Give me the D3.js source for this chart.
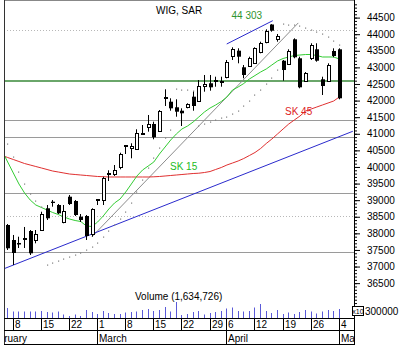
<!DOCTYPE html>
<html>
<head>
<meta charset="utf-8">
<script src="https://cdn.jsdelivr.net/npm/d3@7"></script>
<style>
  body { margin: 0; background: #fff; }
  svg { display: block; font-family: "Liberation Sans", Arial, sans-serif; font-size: 10px; }
</style>
</head>
<body>
<svg id="chart" width="404" height="354"></svg>
<script>
// trading day index: 0 = 8 Feb 2010, -1 = 5 Feb, 58 = 4 May
const firstIndex = -1;
const open  = [38252,37800,37710,37845,38071,37800,38101,38755,38954,38854,38351,39104,38975,38502,38523,37981,38975,39026,39773,39788,
               40008,40632,40571,40532,41008,41204,41295,41093,42078,41966,41798,41695,41798,42117,41996,42439,42521,42575,42560,42719,
               43322,43503,43003,43042,43123,43473,43774,44292,43846,43201,43102,43846,43274,42599,43274,43545,42641,42599,43494,43545];
const high  = [38282,37951,37899,38192,38101,38101,38652,38854,39005,38884,38854,39156,39005,38583,38553,38755,39035,39707,39900,40059,
               40430,40662,40713,41135,41264,41566,41364,41716,42340,42069,42039,41767,41918,42268,42620,42771,42771,42719,42719,43223,
               43605,43575,43072,43322,43605,43774,44147,44303,44006,43223,43545,43876,43322,42861,43726,43726,42719,43123,43575,43575];
const low   = [37499,37047,37559,37559,37348,37700,38080,38402,38803,38583,38303,38854,38523,38342,37800,37899,38854,38854,39577,39728,
               39930,40391,40261,40511,40963,41063,40834,41063,41837,41695,41514,41234,41767,41695,41966,42268,42298,42418,42418,42671,
               43223,43123,42671,43021,43102,43424,43726,44075,43774,42599,43072,43274,42370,42569,43223,43171,42168,42569,43304,42039];
const close = [37550,37408,37664,37875,37399,37972,38583,38454,38915,38604,38683,38884,38553,38402,37920,38725,39020,39677,39818,39909,
               40391,40647,40632,41014,41023,41295,40894,41695,42108,41767,41665,41617,41897,41837,42439,42500,42400,42611,42590,43171,
               43545,43322,42771,43274,43575,43744,44105,44105,43946,42921,43503,43304,42400,42840,43674,43201,42439,43072,43343,42069];
const volume = [3000000,1950000,1950000,1950000,1950000,1950000,2100000,1800000,1650000,1950000,1050000,600000,1050000,600000,2400000,
                1800000,1200000,2100000,1500000,1200000,1200000,1650000,1800000,1950000,2400000,2700000,2100000,2400000,3300000,1950000,
                4800000,900000,1200000,1800000,2100000,1050000,1500000,1800000,2100000,2850000,3150000,2100000,1950000,2100000,3150000,
                4200000,2100000,1500000,2400000,1200000,1650000,1200000,1800000,2400000,1950000,1350000,1950000,2400000,2100000,2700000];
const sar = [40692,40300,39848,39487,39186,38975,38794,37047,37107,37167,37227,37288,37348,37423,37498,37589,37709,37890,38071,38252,
             38432,38643,38914,39246,39607,39969,40270,40571,40873,41114,42340,42330,42310,42290,41234,41294,41355,41415,41475,41505,
             41581,41701,41837,41987,42168,42319,42499,42680,42921,44303,44292,44262,44232,44186,44126,44081,44006,43915,43795,43674];
// moving averages start one day earlier (index -2)
const maFirst = -2;
const sk15 = [40481,40150,39818,39487,39216,39005,38854,38779,38704,38628,38568,38493,38432,38387,38357,38222,38206,38342,38523,38734,
              38914,39035,39246,39487,39728,39909,40029,40150,40391,40601,40812,40993,41144,41234,41355,41505,41656,41776,41867,41972,
              42108,42319,42409,42514,42650,42755,42861,42951,43072,43192,43268,43313,43358,43373,43388,43388,43358,43313,43313,43313,43253];
const sk45 = [40345,40285,40225,40165,40104,40059,40014,39969,39924,39878,39848,39818,39788,39773,39758,39743,39728,39713,39707,39698,
              39698,39698,39698,39698,39698,39698,39698,39704,39713,39728,39743,39758,39773,39788,39803,39812,39833,39863,39924,39984,
              40059,40119,40180,40255,40345,40436,40556,40707,40842,40993,41144,41294,41415,41535,41686,41746,41807,41867,41927,41987,42108];

const priceTicks = d3.range(36500, 45000, 500);
const minorTicks = d3.range(35600, 45000, 100);
const greenLevel = 42575;
const grayLevels = [41400, 40903, 39216, 37429];
const dottedLevels = [44126, 38532];
const grayTrend = [[14, 37900], [50.7, 44340]];
const blueTrend = [[-1.65, 36935], [60.4, 41075]];
const blueTop = [[37.97, 43705], [46.16, 44407]];

const dayTicks = [[0,'8'],[5,'15'],[10,'22'],[15,'1'],[20,'8'],[25,'15'],[30,'22'],[35,'29'],[38,'6'],[43,'12'],[48,'19'],[53,'26'],[58,'4']];
const months = [[-5,'February'],[15,'March'],[38,'April'],[58,'May']];

const plot = {left: 4, right: 354, top: 0, bottom: 318};
const svg = d3.select('#chart');

const defs = svg.append('defs');
defs.append('clipPath').attr('id', 'clipPlot').append('rect')
    .attr('x', plot.left).attr('y', plot.top)
    .attr('width', plot.right - plot.left).attr('height', plot.bottom - plot.top);
defs.append('clipPath').attr('id', 'clipAxis').append('rect')
    .attr('x', plot.left).attr('y', plot.bottom)
    .attr('width', plot.right - plot.left).attr('height', 26);

const x = d3.scaleLinear().domain([-1, 58]).range([7.7, 339.3]);
const y = d3.scaleLinear().domain([35450, 45000]).range([plot.bottom, 1]);
const yv = d3.scaleLinear().domain([0, 3000000]).range([plot.bottom, 308]);
const px = v => Math.round(v) + 0.5;
const cx = i => Math.round(x(i) - 0.5);

const g = svg.append('g').attr('clip-path', 'url(#clipPlot)');

// horizontal levels
g.selectAll('.dot-level').data(dottedLevels).enter().append('line')
    .attr('x1', plot.left).attr('x2', plot.right)
    .attr('y1', d => px(y(d))).attr('y2', d => px(y(d)))
    .attr('stroke', '#b8b8b8').attr('stroke-dasharray', '1,2');

g.selectAll('.gray-level').data(grayLevels).enter().append('line')
    .attr('x1', plot.left).attr('x2', plot.right)
    .attr('y1', d => px(y(d))).attr('y2', d => px(y(d)))
    .attr('stroke', '#9a9a9a');

g.append('line')
    .attr('x1', plot.left).attr('x2', plot.right)
    .attr('y1', Math.round(y(greenLevel))).attr('y2', Math.round(y(greenLevel)))
    .attr('stroke', '#6aa66a').attr('stroke-width', 2);

// volume
const days = d3.range(firstIndex, firstIndex + close.length);
g.selectAll('.vol').data(days).enter().append('line')
    .attr('x1', (d) => cx(d) + 0.5).attr('x2', (d) => cx(d) + 0.5)
    .attr('y1', plot.bottom).attr('y2', (d, k) => yv(volume[k]))
    .attr('stroke', '#5a5ad8');

// trend lines
const seg = d3.line().x(d => x(d[0])).y(d => y(d[1]));
g.append('path').attr('d', seg(grayTrend)).attr('fill', 'none').attr('stroke', '#8c8c8c');
g.append('path').attr('d', seg(blueTrend)).attr('fill', 'none').attr('stroke', '#2a2acc');
g.append('path').attr('d', seg(blueTop)).attr('fill', 'none').attr('stroke', '#2a2acc');

// moving averages
const maLine = d3.line().x((d, k) => x(k + maFirst)).y(d => y(d));
g.append('path').attr('d', maLine(sk45)).attr('fill', 'none').attr('stroke', '#e03030');
g.append('path').attr('d', maLine(sk15)).attr('fill', 'none').attr('stroke', '#33cc33');

// parabolic SAR
g.selectAll('.sar').data(days).enter().append('rect')
    .attr('x', d => cx(d)).attr('y', (d, k) => Math.round(y(sar[k])) - 0.5)
    .attr('width', 1.2).attr('height', 1.2)
    .attr('fill', '#808080');

// candles
const candles = days.map((d, k) => ({i: d, o: open[k], h: high[k], l: low[k], c: close[k]}));
const cg = g.selectAll('.candle').data(candles).enter().append('g');
cg.append('line')
    .attr('x1', d => cx(d.i) + 0.5).attr('x2', d => cx(d.i) + 0.5)
    .attr('y1', d => y(d.h)).attr('y2', d => y(d.l))
    .attr('stroke', '#000');
cg.filter(d => d.c < d.o).append('rect')
    .attr('x', d => cx(d.i) - 1).attr('width', 4)
    .attr('y', d => y(d.o)).attr('height', d => Math.max(1, y(d.c) - y(d.o)))
    .attr('fill', '#000');
cg.filter(d => d.c >= d.o).append('rect')
    .attr('x', d => cx(d.i) - 0.5).attr('width', 3)
    .attr('y', d => px(y(d.c))).attr('height', d => Math.max(1, Math.round(y(d.o) - y(d.c))))
    .attr('fill', '#fff').attr('stroke', '#000');

// chart texts
g.append('text').attr('x', 156).attr('y', 13.5).text('WIG, SAR');
g.append('text').attr('x', 231.5).attr('y', 19).attr('fill', '#2f942f').text('44 303');
g.append('text').attr('x', 170).attr('y', 169.5).attr('fill', '#22bb22').text('SK 15');
g.append('text').attr('x', 285).attr('y', 114.5).attr('fill', '#dd2222').text('SK 45');
g.append('text').attr('x', 135).attr('y', 300).text('Volume (1,634,726)');

// frame
svg.append('line').attr('x1', plot.left).attr('x2', plot.right).attr('y1', 0.5).attr('y2', 0.5).attr('stroke', '#888');
svg.append('line').attr('x1', plot.left + 0.5).attr('x2', plot.left + 0.5).attr('y1', 0).attr('y2', 344).attr('stroke', '#333');

// price axis
const minorAxis = d3.axisRight(y).tickValues(minorTicks).tickSize(3).tickFormat('');
const majorAxis = d3.axisRight(y).tickValues(priceTicks).tickSize(6).tickPadding(7).tickFormat(d3.format('d'));
const ag1 = svg.append('g').attr('transform', `translate(${plot.right},0)`).call(minorAxis);
ag1.select('.domain').remove();
const ag2 = svg.append('g').attr('transform', `translate(${plot.right},0)`).call(majorAxis);
ag2.select('.domain').remove();
svg.selectAll('.tick text').attr('font-family', '"Liberation Sans", Arial, sans-serif').attr('font-size', 10).attr('fill', '#000');
svg.append('line').attr('x1', plot.right + 0.5).attr('x2', plot.right + 0.5).attr('y1', 0).attr('y2', 344).attr('stroke', '#000');

// volume scale label
svg.append('rect').attr('x', 352.5).attr('y', 306.5).attr('width', 11).attr('height', 9)
    .attr('fill', '#fff').attr('stroke', '#000');
svg.append('text').attr('x', 358).attr('y', 313.5).attr('text-anchor', 'middle').attr('font-size', 7).text('x10');
svg.append('text').attr('x', 365).attr('y', 314.5).text('300000');

// date axis
[plot.bottom, 330, 344].forEach(v => {
  svg.append('line').attr('x1', plot.left).attr('x2', plot.right + 1)
      .attr('y1', v + 0.5).attr('y2', v + 0.5).attr('stroke', '#000');
});
const xa = svg.append('g').attr('clip-path', 'url(#clipAxis)');
xa.selectAll('.dtick').data(dayTicks).enter().append('line')
    .attr('x1', d => cx(d[0]) + 0.5).attr('x2', d => cx(d[0]) + 0.5)
    .attr('y1', plot.bottom).attr('y2', 330).attr('stroke', '#000');
xa.selectAll('.dlabel').data(dayTicks).enter().append('text')
    .attr('x', d => cx(d[0]) + 2).attr('y', 328).text(d => d[1]);
xa.selectAll('.mtick').data(months).enter().append('line')
    .attr('x1', d => cx(d[0]) + 0.5).attr('x2', d => cx(d[0]) + 0.5)
    .attr('y1', plot.bottom).attr('y2', 344).attr('stroke', '#000');
xa.selectAll('.mlabel').data(months).enter().append('text')
    .attr('x', d => cx(d[0]) + 2).attr('y', 342).text(d => d[1]);
</script>
</body>
</html>
